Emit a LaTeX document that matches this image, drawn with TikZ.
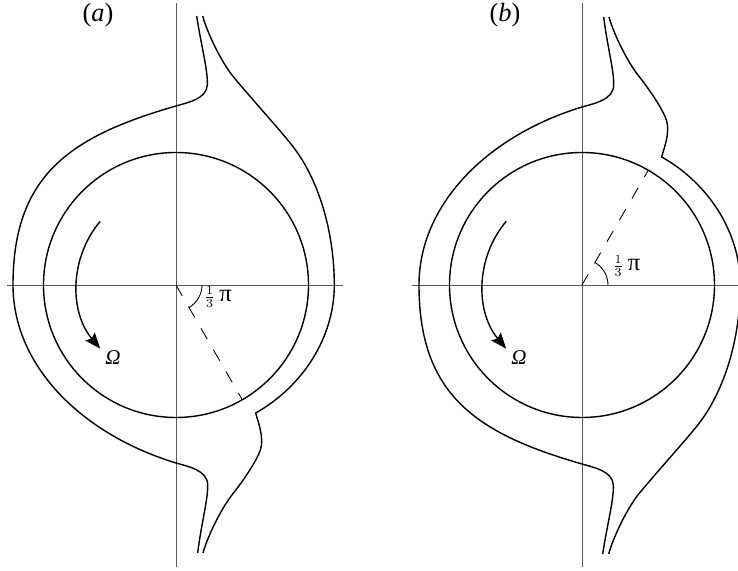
\documentclass[tikz,border=0pt]{standalone}
\usepackage{amsmath}
\usepackage{fontspec}
\setmainfont{Liberation Serif}
\usetikzlibrary{arrows.meta}
\tikzset{axis/.style={black!65,line width=0.5pt},
         rim/.style={line width=0.8pt},
         guide/.style={line width=0.5pt,dash pattern=on 7.1pt off 7.1pt},
         spin/.style={-{Stealth[length=9pt,width=7pt,inset=1.5pt]},line width=0.8pt},
         lbl/.style={inner sep=0pt}}
\begin{document}
\begin{tikzpicture}[x=0.02cm,y=0.02cm,
  tag/.style={lbl,font=\fontsize{15}{18}\selectfont},
  ang/.style={lbl,font=\fontsize{14}{16}\selectfont},
  om/.style={lbl,font=\fontsize{12}{14}\selectfont}]
\useasboundingbox (0,0) rectangle (738,571);
% outer free surface as in (a); (b) uses its mirror image
\def\freesurf{%
\draw[rim] (20.7,269) .. controls (25,240) and (32,215) .. (31.3,200)
   .. controls (30.5,186) and (12,182.5) .. (0,179)
   .. controls (-105.7,148.6) and (-163,110) .. (-163,0)
   .. controls (-163,-80) and (-95.6,-148.8) .. (0,-178)
   .. controls (12,-181.5) and (31.5,-185) .. (31.7,-200)
   .. controls (32,-215) and (25,-240) .. (21.7,-268);
\draw[rim] (26.7,269) .. controls (31.4,251.6) and (45.8,222.2) .. (57.3,208.3)
   .. controls (80,181) and (105,154) .. (117.3,138)
   .. controls (141.7,106.4) and (158.3,55) .. (158.3,0)
   .. controls (158.3,-53) and (126.2,-101.8) .. (79.7,-128)
   .. controls (82,-137) and (86.5,-147) .. (85.5,-160)
   .. controls (84.7,-170) and (70,-192) .. (57.3,-208.3)
   .. controls (45.8,-222.2) and (31.4,-251.6) .. (27,-268);}
% (a)
\begin{scope}[shift={(176,286)}]
\coordinate (Oa) at (0,0);
\draw[axis] (-169,0) -- (167,0);
\draw[axis] (0,-282) -- (0,282);
\draw[rim] (Oa) circle (132.5);
\freesurf
\draw[guide] (Oa) -- (-60:132.5);
\draw[axis,black] (26,0) arc (0:-60:26);
\draw[spin] (140:99) arc (140:220:99);
\node[tag] (pa) at (-78,270) {(\textit{a})};
\node[om] (Wa) at (-63,-73) {\textit{Ω}};
\node[ang] (ka) at (42,-12) {$\genfrac{}{}{}{2}{1}{3}$\,π};
\end{scope}
% (b)
\begin{scope}[shift={(582,286)}]
\coordinate (Ob) at (0,0);
\draw[axis] (-170,0) -- (156,0);
\draw[axis] (0,-282) -- (0,282);
\draw[rim] (Ob) circle (132.5);
\begin{scope}[yscale=-1]
\freesurf
\end{scope}
\draw[guide] (Ob) -- (60:132.5);
\draw[axis,black] (26,0) arc (0:60:26);
\draw[spin] (140:99) arc (140:220:99);
\node[tag] (pb) at (-77,270) {(\textit{b})};
\node[om] (Wb) at (-63,-73) {\textit{Ω}};
\node[ang] (kb) at (44.5,19) {$\genfrac{}{}{}{2}{1}{3}$\,π};
\end{scope}
\end{tikzpicture}
\end{document}
